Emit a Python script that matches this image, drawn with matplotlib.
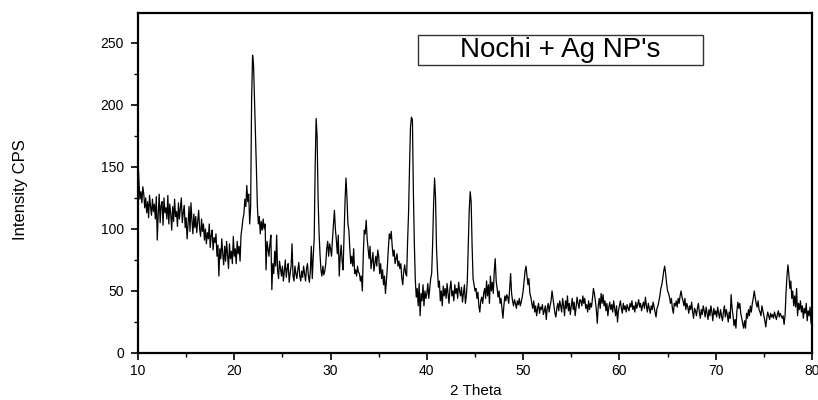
import matplotlib.pyplot as plt
import numpy as np
from matplotlib.patches import Rectangle
from matplotlib.ticker import MultipleLocator

# scan: 10 to 80 deg 2-theta, 0.1 deg step (one row = one degree)
two_theta = np.round(np.arange(10.0, 80.05, 0.1), 1)

counts = [
    155, 138, 124, 130, 121, 134, 128, 117, 125, 113,   # 10
    122, 109, 127, 118, 111, 124, 114, 120, 108, 126,   # 11
    91, 112, 128, 105, 119, 122, 103, 125, 113, 117,    # 12
    108, 127, 104, 120, 112, 99, 118, 106, 124, 110,    # 13
    114, 102, 121, 108, 117, 125, 105, 113, 119, 101,   # 14
    109, 92, 104, 118, 98, 121, 107, 96, 112, 101,      # 15
    110, 97, 106, 115, 100, 94, 108, 98, 104, 91,       # 16
    100, 88, 97, 92, 104, 85, 95, 99, 83, 93,           # 17
    89, 96, 78, 87, 62, 84, 76, 92, 80, 71,             # 18
    86, 74, 90, 79, 68, 88, 76, 82, 72, 94,             # 19
    78, 84, 72, 90, 80, 86, 74, 95, 101, 108,           # 20
    112, 124, 118, 135, 122, 128, 104, 118, 205, 240,   # 21
    232, 205, 175, 148, 118, 104, 110, 96, 106, 99,     # 22
    108, 100, 104, 67, 90, 84, 78, 88, 95, 51,          # 23
    72, 64, 82, 70, 95, 66, 60, 74, 68, 62,             # 24
    70, 58, 66, 75, 61, 68, 72, 57, 64, 70,             # 25
    88, 62, 58, 70, 64, 60, 67, 73, 62, 58,             # 26
    66, 61, 70, 64, 58, 68, 72, 62, 57, 66,             # 27
    86, 60, 78, 92, 150, 189, 175, 126, 98, 80,         # 28
    67, 62, 70, 63, 66, 72, 84, 90, 78, 88,             # 29
    84, 78, 92, 104, 115, 100, 91, 80, 95, 62,          # 30
    78, 87, 74, 67, 96, 122, 141, 126, 104, 99,         # 31
    84, 72, 78, 70, 84, 64, 67, 62, 70, 65,             # 32
    64, 58, 62, 50, 80, 99, 96, 107, 92, 84,            # 33
    76, 86, 68, 74, 81, 66, 72, 78, 70, 83,             # 34
    78, 64, 72, 60, 67, 55, 62, 48, 58, 70,             # 35
    84, 96, 92, 98, 86, 78, 83, 72, 76, 80,             # 36
    70, 74, 68, 72, 60, 55, 66, 71, 64, 62,             # 37
    90, 113, 150, 182, 190, 188, 130, 88, 59, 45,       # 38
    52, 38, 56, 30, 48, 42, 55, 38, 50, 44,             # 39
    48, 56, 44, 52, 60, 64, 88, 120, 141, 125,          # 40
    85, 67, 53, 58, 42, 50, 38, 54, 46, 52,             # 41
    44, 56, 48, 40, 52, 58, 46, 50, 42, 55,             # 42
    48, 52, 44, 57, 50, 46, 53, 41, 48, 55,             # 43
    40, 46, 58, 85, 115, 130, 122, 86, 60, 55,          # 44
    50, 52, 44, 49, 38, 33, 42, 45, 40, 48,             # 45
    52, 44, 58, 46, 55, 40, 62, 50, 57, 48,             # 46
    66, 76, 58, 52, 45, 50, 40, 44, 36, 28,             # 47
    38, 46, 42, 47, 45, 40, 52, 64, 48, 42,             # 48
    38, 43, 40, 36, 42, 39, 44, 38, 41, 45,             # 49
    50, 58, 66, 70, 62, 55, 60, 48, 45, 40,             # 50
    36, 42, 33, 38, 30, 36, 40, 32, 37, 35,             # 51
    39, 31, 34, 38, 27, 36, 40, 33, 38, 42,             # 52
    50, 44, 38, 32, 29, 36, 40, 34, 42, 38,             # 53
    33, 44, 38, 30, 42, 36, 46, 34, 40, 31,             # 54
    38, 44, 35, 41, 30, 37, 45, 40, 36, 43,             # 55
    42, 38, 46, 40, 44, 36, 39, 33, 42, 35,             # 56
    40, 37, 44, 52, 48, 42, 35, 24, 38, 44,             # 57
    36, 48, 40, 47, 38, 42, 34, 40, 30, 37,             # 58
    41, 35, 39, 33, 42, 36, 30, 38, 25, 34,             # 59
    38, 42, 36, 32, 40, 35, 38, 33, 39, 36,             # 60
    34, 40, 37, 42, 35, 38, 33, 41, 36, 39,             # 61
    43, 37, 40, 34, 38, 41, 36, 45, 38, 33,             # 62
    40, 36, 32, 38, 35, 41, 37, 33, 29, 36,             # 63
    38, 42, 46, 52, 55, 60, 66, 70, 64, 56,             # 64
    50, 48, 45, 40, 44, 36, 32, 40, 38, 42,             # 65
    37, 44, 40, 46, 50, 45, 42, 38, 44, 35,             # 66
    40, 37, 32, 38, 35, 41, 33, 28, 36, 34,             # 67
    30, 36, 40, 33, 28, 35, 31, 38, 34, 29,             # 68
    37, 32, 27, 35, 30, 38, 33, 26, 36, 31,             # 69
    34, 29, 37, 32, 28, 35, 30, 26, 33, 38,             # 70
    29, 35, 31, 25, 33, 28, 47, 36, 30, 22,             # 71
    27, 20, 34, 41, 36, 40, 32, 28, 24, 20,             # 72
    26, 20, 32, 28, 35, 30, 38, 33, 40, 44,             # 73
    50, 45, 40, 37, 42, 35, 33, 30, 38, 34,             # 74
    30, 26, 21, 28, 33, 30, 27, 32, 29, 31,             # 75
    28, 33, 30, 27, 31, 34, 29, 32, 30, 28,             # 76
    30, 23, 30, 48, 62, 71, 63, 52, 58, 44,             # 77
    50, 38, 46, 37, 52, 30, 40, 35, 42, 33,             # 78
    38, 28, 36, 32, 40, 26, 34, 30, 37, 24,             # 79
    30,                                                 # 80
]

x_ticks = [10, 20, 30, 40, 50, 60, 70, 80]
y_ticks = [0, 50, 100, 150, 200, 250]
sample_label = "Nochi + Ag NP's"

plt.rcParams['font.family'] = ['Liberation Sans', 'DejaVu Sans']

fig = plt.figure(figsize=(8.18, 4.0), dpi=100)
ax = fig.add_axes([138 / 818, 47 / 400, 674 / 818, 340 / 400])

ax.plot(two_theta, counts, color='black', linewidth=0.9)

ax.set_xlim(10, 80)
ax.set_ylim(0, 274)
ax.set_xticks(x_ticks)
ax.set_yticks(y_ticks)
ax.xaxis.set_minor_locator(MultipleLocator(5))
ax.yaxis.set_minor_locator(MultipleLocator(25))
ax.tick_params(axis='both', which='major', direction='out', length=5, width=1.2, labelsize=10)
ax.tick_params(axis='both', which='minor', direction='out', length=3, width=1.0)
ax.tick_params(axis='x', pad=3)
ax.tick_params(axis='y', pad=5)
for s in ax.spines.values():
    s.set_linewidth(1.6)

fig.text(21 / 818, 0.525, "Intensity CPS", rotation=90, ha='center', va='center',
         fontsize=12, family=['Liberation Sans Narrow', 'Liberation Sans', 'DejaVu Sans'])
fig.text(476 / 818, 1 - 391 / 400, "2 Theta", ha='center', va='center', fontsize=11)

# boxed sample label
ax.add_patch(Rectangle((0.4154, 0.847), 0.4229, 0.088, transform=ax.transAxes,
                       facecolor='white', edgecolor='#333333', linewidth=1.0, zorder=3))
ax.text(0.627, 0.891, sample_label, transform=ax.transAxes, ha='center', va='center',
        fontsize=20, zorder=4)

fig.savefig("out.png", dpi=100)
